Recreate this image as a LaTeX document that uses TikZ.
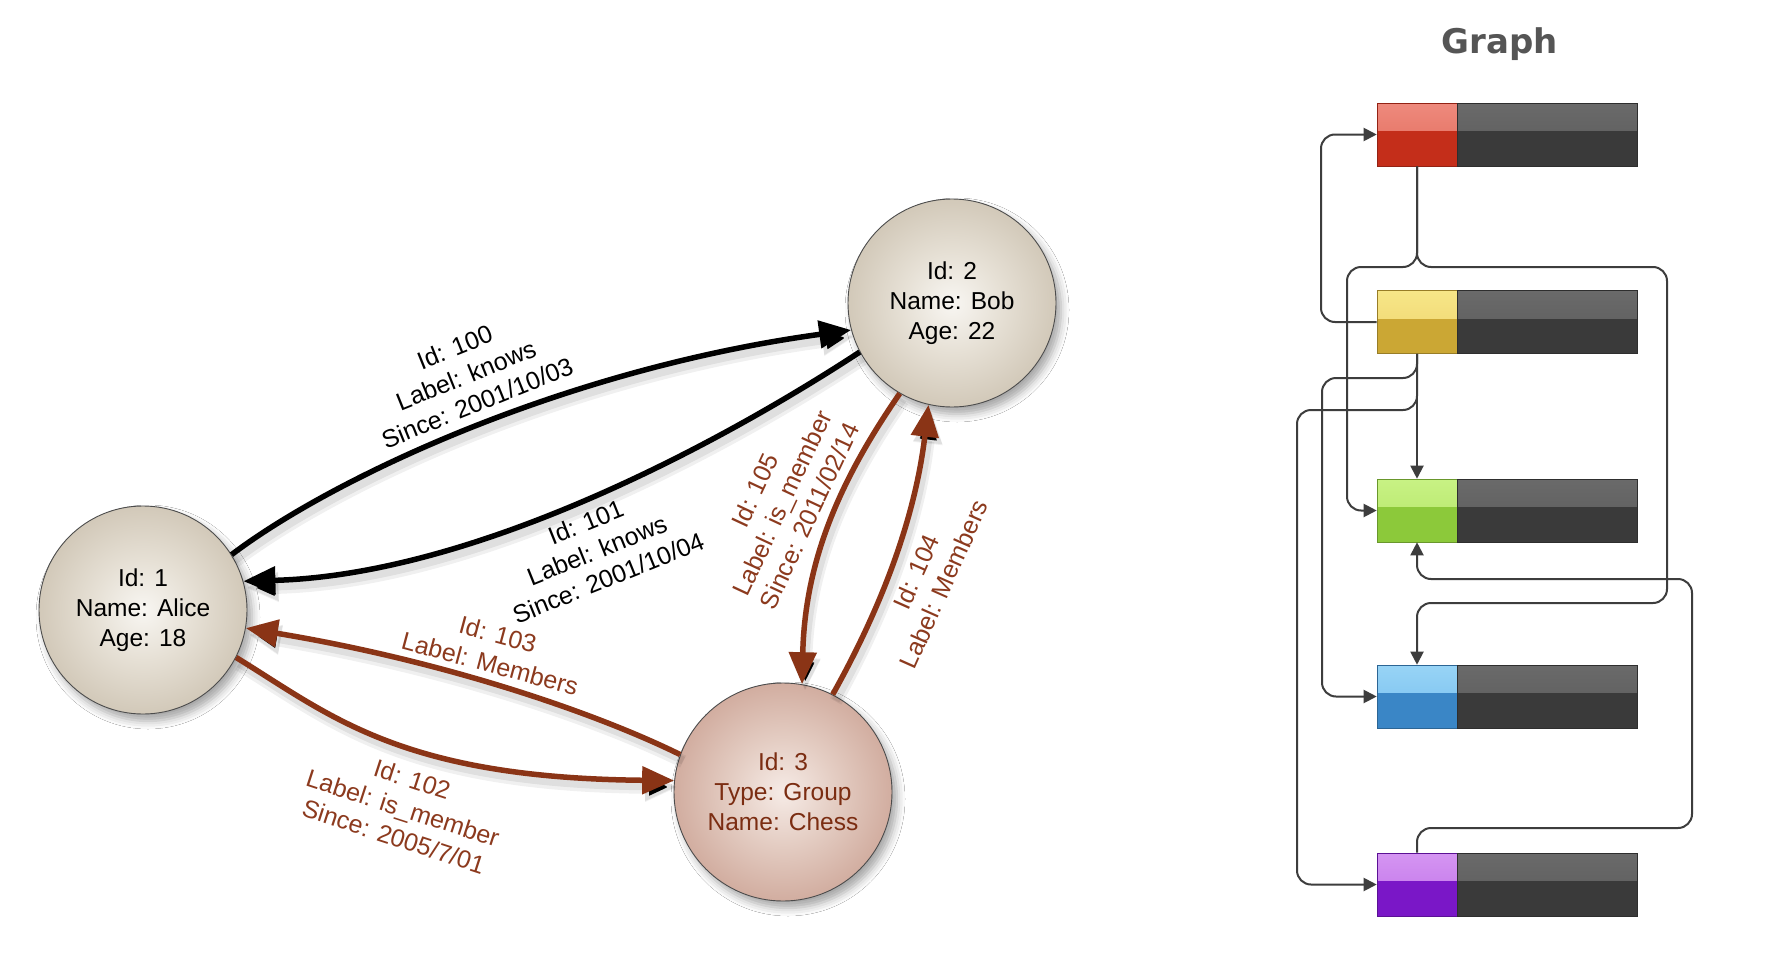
\documentclass[tikz,border=0pt]{standalone}
\usepackage{fontspec}
\setmainfont{Liberation Sans}
\newfontfamily\titlefont{DejaVu Sans}
\usetikzlibrary{arrows.meta,shadows.blur}
\definecolor{brn}{HTML}{8A3416}
\definecolor{brntxt}{HTML}{8C3A1E}
\definecolor{chesstxt}{HTML}{7B2D12}
\definecolor{tanA}{HTML}{F8F6F2}
\definecolor{tanB}{HTML}{E6E0D5}
\definecolor{tanC}{HTML}{C1B5A1}
\definecolor{tanD}{HTML}{A09079}
\definecolor{chA}{HTML}{F6EBE6}
\definecolor{chB}{HTML}{E4CDC3}
\definecolor{chC}{HTML}{C29282}
\definecolor{chD}{HTML}{A56E5C}
\definecolor{gl}{HTML}{3D3D3D}
\definecolor{titlegray}{HTML}{555555}
\definecolor{redA}{HTML}{EE8A7D}\definecolor{redB}{HTML}{E26A5A}\definecolor{redC}{HTML}{C42E1A}
\definecolor{yelA}{HTML}{F7E688}\definecolor{yelB}{HTML}{EDD26A}\definecolor{yelC}{HTML}{CBA734}
\definecolor{grnA}{HTML}{C8F284}\definecolor{grnB}{HTML}{B2E466}\definecolor{grnC}{HTML}{8CC93A}
\definecolor{bluA}{HTML}{98D4F6}\definecolor{bluB}{HTML}{74BDEE}\definecolor{bluC}{HTML}{3A86C6}
\definecolor{purA}{HTML}{D595F2}\definecolor{purB}{HTML}{BE6FE8}\definecolor{purC}{HTML}{7A17C7}
\definecolor{drkA}{HTML}{6A6A6A}\definecolor{drkB}{HTML}{5A5A5A}\definecolor{drkC}{HTML}{3A3A3A}
\pgfdeclareradialshading{tanball}{\pgfpoint{0bp}{0bp}}{color(0bp)=(tanA); color(12bp)=(tanB); color(36bp)=(tanC); color(50bp)=(tanD)}
\pgfdeclareradialshading{chessball}{\pgfpoint{0bp}{0bp}}{color(0bp)=(chA); color(12bp)=(chB); color(36bp)=(chC); color(50bp)=(chD)}
\tikzset{
  ball/.style={circle, inner sep=0pt, draw=#1, line width=0.9pt, align=center,
    font=\fontsize{24.5}{30}\selectfont,
    blur shadow={shadow xshift=5pt, shadow yshift=-7pt, shadow blur radius=8pt, shadow opacity=35}},
  eshadow/.style={preaction={draw=black, draw opacity=0.06, line width=13pt,
    transform canvas={xshift=3pt, yshift=-7pt}},
    preaction={draw=black, draw opacity=0.07, line width=8pt,
    transform canvas={xshift=3pt, yshift=-6pt}}},
  blkedge/.style={eshadow, draw=black, line width=5.5pt, -{Triangle[length=32pt,width=27pt]}},
  brnedge/.style={eshadow, draw=brn, line width=5.5pt, -{Triangle[length=32pt,width=27pt]}},
  lblk/.style={align=center, inner sep=0pt, text=black, font=\fontsize{25}{30}\selectfont},
  lbrn/.style={align=center, inner sep=0pt, text=brntxt, font=\fontsize{25}{30}\selectfont},
  cbox/.style n args={3}{minimum width=80pt, minimum height=63pt, inner sep=0pt,
    fill=#3, draw=#3!75!black, line width=0.6pt,
    path picture={\shade[top color=#1, bottom color=#2]
      (path picture bounding box.north west) rectangle ([yshift=4pt]path picture bounding box.east);}},
  dbox/.style={minimum width=180pt, minimum height=63pt, inner sep=0pt, anchor=west,
    fill=drkC, draw=drkC!80!black, line width=0.6pt,
    path picture={\shade[top color=drkA, bottom color=drkB]
      (path picture bounding box.north west) rectangle ([yshift=4pt]path picture bounding box.east);}},
  gline/.style={draw=gl, line width=2pt, rounded corners=14pt, -{Triangle[length=13pt,width=13pt]}}
}
\begin{document}
\begin{tikzpicture}[x=1pt,y=-1pt]
\fill[white] (0,0) rectangle (1772,958);
\useasboundingbox (0,0) rectangle (1772,958);

% ---------- left graph ----------
\node[ball=black!70, shade, shading=tanball, minimum size=208pt, text=black] (alice) at (143,610) {Id: 1\\Name: Alice\\Age: 18};
\node[ball=black!70, shade, shading=tanball, minimum size=208pt, text=black] (bob) at (952,303) {Id: 2\\Name: Bob\\Age: 22};
\node[ball=black!70, shade, shading=chessball, minimum size=218pt, text=chesstxt] (chess) at (783,792) {Id: 3\\Type: Group\\Name: Chess};

\draw[blkedge] (alice.32) .. controls (330,480) and (560,370) .. (bob.195);
\draw[blkedge] (bob.208) .. controls (710,450) and (470,575) .. (alice.16);
\draw[brnedge] (chess.160) .. controls (600,715) and (450,662) .. (alice.-10);
\draw[brnedge] (alice.-27) .. controls (330,715) and (400,778) .. (chess.174);
\draw[brnedge] (bob.240) .. controls (840,480) and (805,560) .. (chess.80);
\draw[brnedge] (chess.63) .. controls (880,610) and (915,520) .. (bob.257);

\node[lblk, rotate=22] (l100) at (466,375) {Id: 100\\Label: knows\\Since: 2001/10/03};
\node[lblk, rotate=22] (l101) at (597,550) {Id: 101\\Label: knows\\Since: 2001/10/04};
\node[lbrn, rotate=-15] (l103) at (494,649) {Id: 103\\Label: Members};
\node[lbrn, rotate=-18] (l102) at (403,808) {Id: 102\\Label: is\_member\\Since: 2005/7/01};
\node[lbrn, rotate=65] (l105) at (782,503) {Id: 105\\Label: is\_member\\Since: 2011/02/14};
\node[lbrn, rotate=66] (l104) at (930,578) {Id: 104\\Label: Members};

% ---------- right graph ----------
\node[anchor=base, text=titlegray, font=\titlefont\bfseries\fontsize{34}{40}\selectfont] (title) at (1500,53) {Graph};

\node[cbox={redA}{redB}{redC}] (rc) at (1417,134.5) {};
\node[dbox] (rd) at (rc.east) {};
\node[cbox={yelA}{yelB}{yelC}] (yc) at (1417,322) {};
\node[dbox] (yd) at (yc.east) {};
\node[cbox={grnA}{grnB}{grnC}] (gc) at (1417,510.5) {};
\node[dbox] (gd) at (gc.east) {};
\node[cbox={bluA}{bluB}{bluC}] (bc) at (1417,696.5) {};
\node[dbox] (bd) at (bc.east) {};
\node[cbox={purA}{purB}{purC}] (pc) at (1417,884.5) {};
\node[dbox] (pd) at (pc.east) {};

\draw[gline] (yc.west) -- (1321,322) |- (rc.west);
\draw[gline] (rc.south) |- (1347,267) |- (gc.west);
\draw[gline] (rc.south) |- (1667,267) |- (1417,603) -- (bc.north);
\draw[gline] (yc.south) -- (gc.north);
\draw[gline] (yc.south) |- (1322,378) |- (bc.west);
\draw[gline] (yc.south) |- (1297,410) |- (pc.west);
\draw[gline] (pc.north) |- (1692,828) |- (1417,579) -- (gc.south);
\end{tikzpicture}
\end{document}
